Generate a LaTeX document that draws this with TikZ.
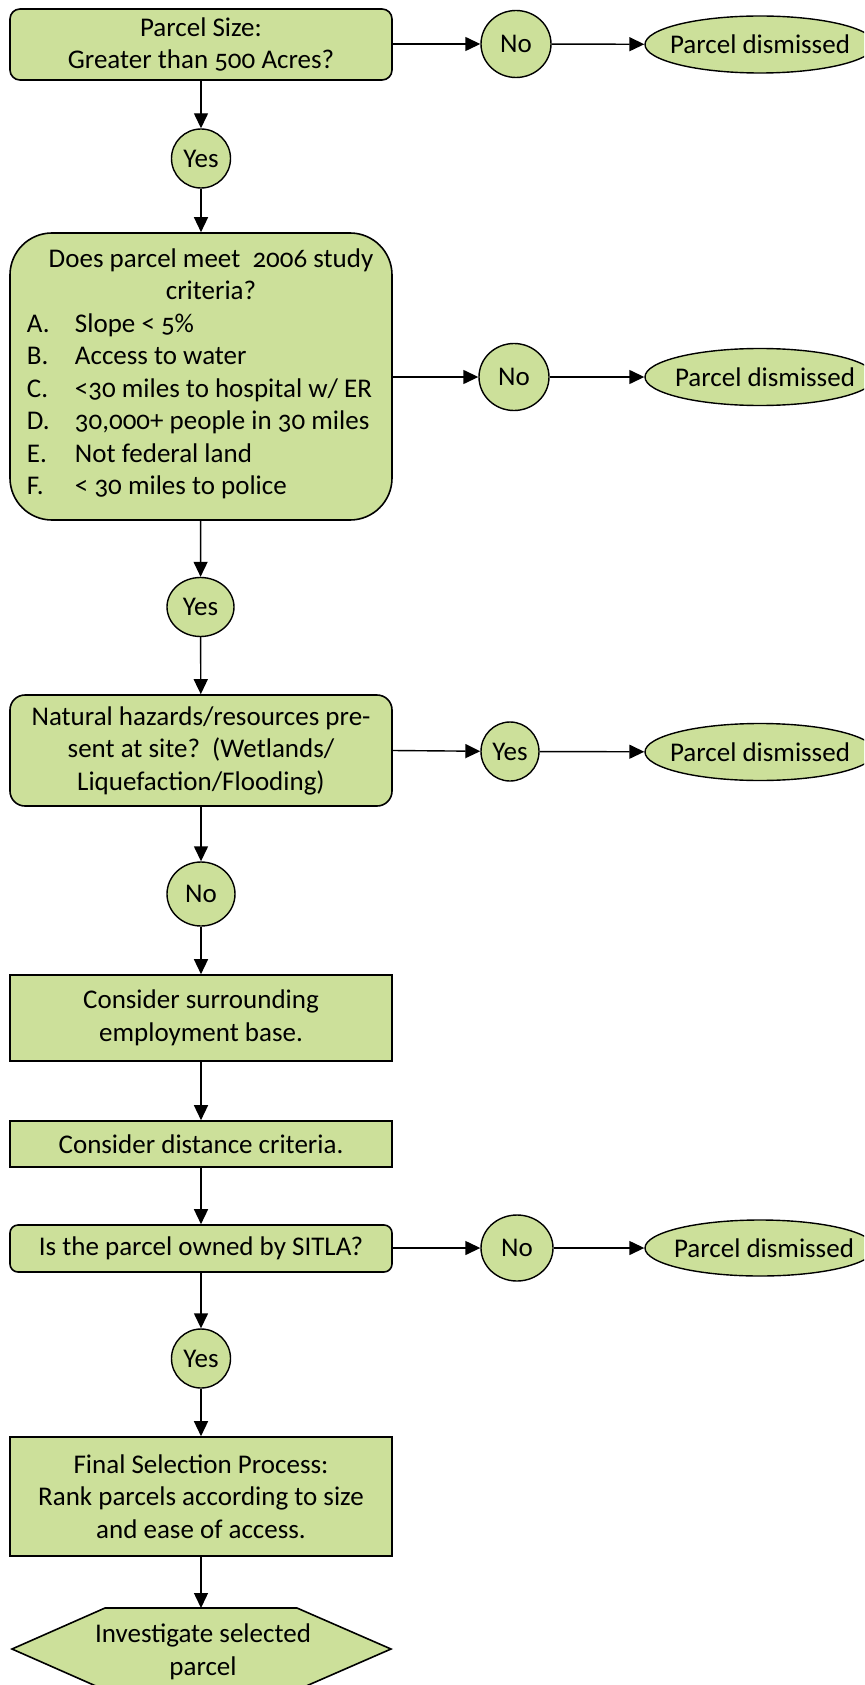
\documentclass[tikz,border=0pt]{standalone}
\usepackage{fontspec}
\setmainfont[Numbers=OldStyle]{Carlito}
\usetikzlibrary{arrows.meta,shapes.geometric}
\definecolor{fgreen}{RGB}{204,224,154}
\newcommand{\ff}{\fontsize{27}{32.5}\selectfont}
\newcommand{\zw}[1]{\makebox[0pt]{#1}}
\tikzset{
  shp/.style={draw=black, fill=fgreen, line width=1.6pt, inner sep=0pt, align=center, font=\ff},
  boxr/.style={shp, rectangle, minimum width=382pt},
  oval/.style={shp, ellipse, line width=1.4pt},
  conn/.style={line width=1.4pt, -{Triangle[length=15pt,width=14pt]}},
}
\begin{document}
\begin{tikzpicture}[x=1pt,y=-1pt]
\path[use as bounding box] (0,0) rectangle (864,1685);
\clip (0,0) rectangle (864,1685);

% main column
\node[boxr, rounded corners=10pt, minimum height=71pt] (b1) at (201,44.5) {Parcel Size:\\Greater than 500 Acres?};
\node[oval, minimum width=59pt, minimum height=59pt] (y1) at (201,158.5) {\zw{Yes}};
\node[boxr, rounded corners=42pt, minimum height=287pt] (b2) at (201,376.5) {};
\node[font=\ff, align=left, inner sep=0pt] (b2t) at (202,374)
 {\makebox[350pt][c]{\hspace*{18pt}Does parcel meet\ \ 2006 study}\\
  \makebox[350pt][c]{\hspace*{18pt}criteria?}\\
  \makebox[48pt][l]{A.}Slope < 5\%\\
  \makebox[48pt][l]{B.}Access to water\\
  \makebox[48pt][l]{C.}<30 miles to hospital w/ ER\\
  \makebox[48pt][l]{D.}30,000+ people in 30 miles\\
  \makebox[48pt][l]{E.}Not federal land\\
  \makebox[48pt][l]{F.}< 30 miles to police};
\node[oval, minimum width=67pt, minimum height=59pt] (y2) at (200.5,607) {\zw{Yes}};
\node[boxr, rounded corners=15pt, minimum height=111pt] (b3) at (201,750.5) {Natural hazards/resources pre-\\sent at site?\ \ (Wetlands/\\Liquefaction/Flooding)};
\node[oval, minimum width=68pt, minimum height=64pt] (n3) at (201,894) {\zw{No}};
\node[boxr, minimum height=86pt] (b4) at (201,1018) {Consider surrounding\\employment base.};
\node[boxr, minimum height=46pt] (b5) at (201,1144) {Consider distance criteria.};
\node[boxr, rounded corners=8pt, minimum height=47pt] (b6) at (201,1248.5) {Is the parcel owned by SITLA?};
\node[oval, minimum width=59pt, minimum height=59pt] (y4) at (201,1358.5) {\zw{Yes}};
\node[boxr, minimum height=119pt] (b7) at (201,1496.5) {Final Selection Process:\\Rank parcels according to size\\and ease of access.};
\draw[shp] (12,1649) -- (105,1608) -- (297,1608) -- (391,1649) -- (297,1690) -- (105,1690) -- cycle;
\coordinate (hextop) at (201,1608);
\node[font=\ff, align=center, inner sep=0pt] (hex) at (203,1652) {Investigate selected\\parcel};

% right column
\node[oval, minimum width=70pt, minimum height=67pt] (n1) at (516,44) {\zw{No}};
\node[oval, minimum width=230pt, minimum height=57pt] (d1) at (760,44.5) {\zw{Parcel dismissed}};
\node[oval, minimum width=70pt, minimum height=67pt] (n2) at (514,377) {\zw{No}};
\node[oval, minimum width=230pt, minimum height=57pt] (d2) at (760,377) {\zw{\hspace*{10pt}Parcel dismissed}};
\node[oval, minimum width=58pt, minimum height=59pt] (y3) at (510,751.5) {\zw{Yes}};
\node[oval, minimum width=230pt, minimum height=57pt] (d3) at (760,752) {\zw{Parcel dismissed}};
\node[oval, minimum width=72pt, minimum height=66pt] (n4) at (517,1248) {\zw{No}};
\node[oval, minimum width=230pt, minimum height=56pt] (d4) at (760,1248) {\zw{\hspace*{8pt}Parcel dismissed}};

% connectors
\draw[conn] (b1) -- (y1);
\draw[conn] (y1) -- (b2);
\draw[conn] (b2) -- (y2);
\draw[conn] (y2) -- (b3);
\draw[conn] (b3) -- (n3);
\draw[conn] (n3) -- (b4);
\draw[conn] (b4) -- (b5);
\draw[conn] (b5) -- (b6);
\draw[conn] (b6) -- (y4);
\draw[conn] (y4) -- (b7);
\draw[conn] (b7) -- (hextop);

\draw[conn] (b1.east |- n1) -- (n1);
\draw[conn] (n1) -- (d1);
\draw[conn] (b2.east |- n2) -- (n2);
\draw[conn] (n2) -- (d2);
\draw[conn] (b3.east) -- (y3);
\draw[conn] (y3) -- (d3);
\draw[conn] (b6.east |- n4) -- (n4);
\draw[conn] (n4) -- (d4);
\end{tikzpicture}
\end{document}
